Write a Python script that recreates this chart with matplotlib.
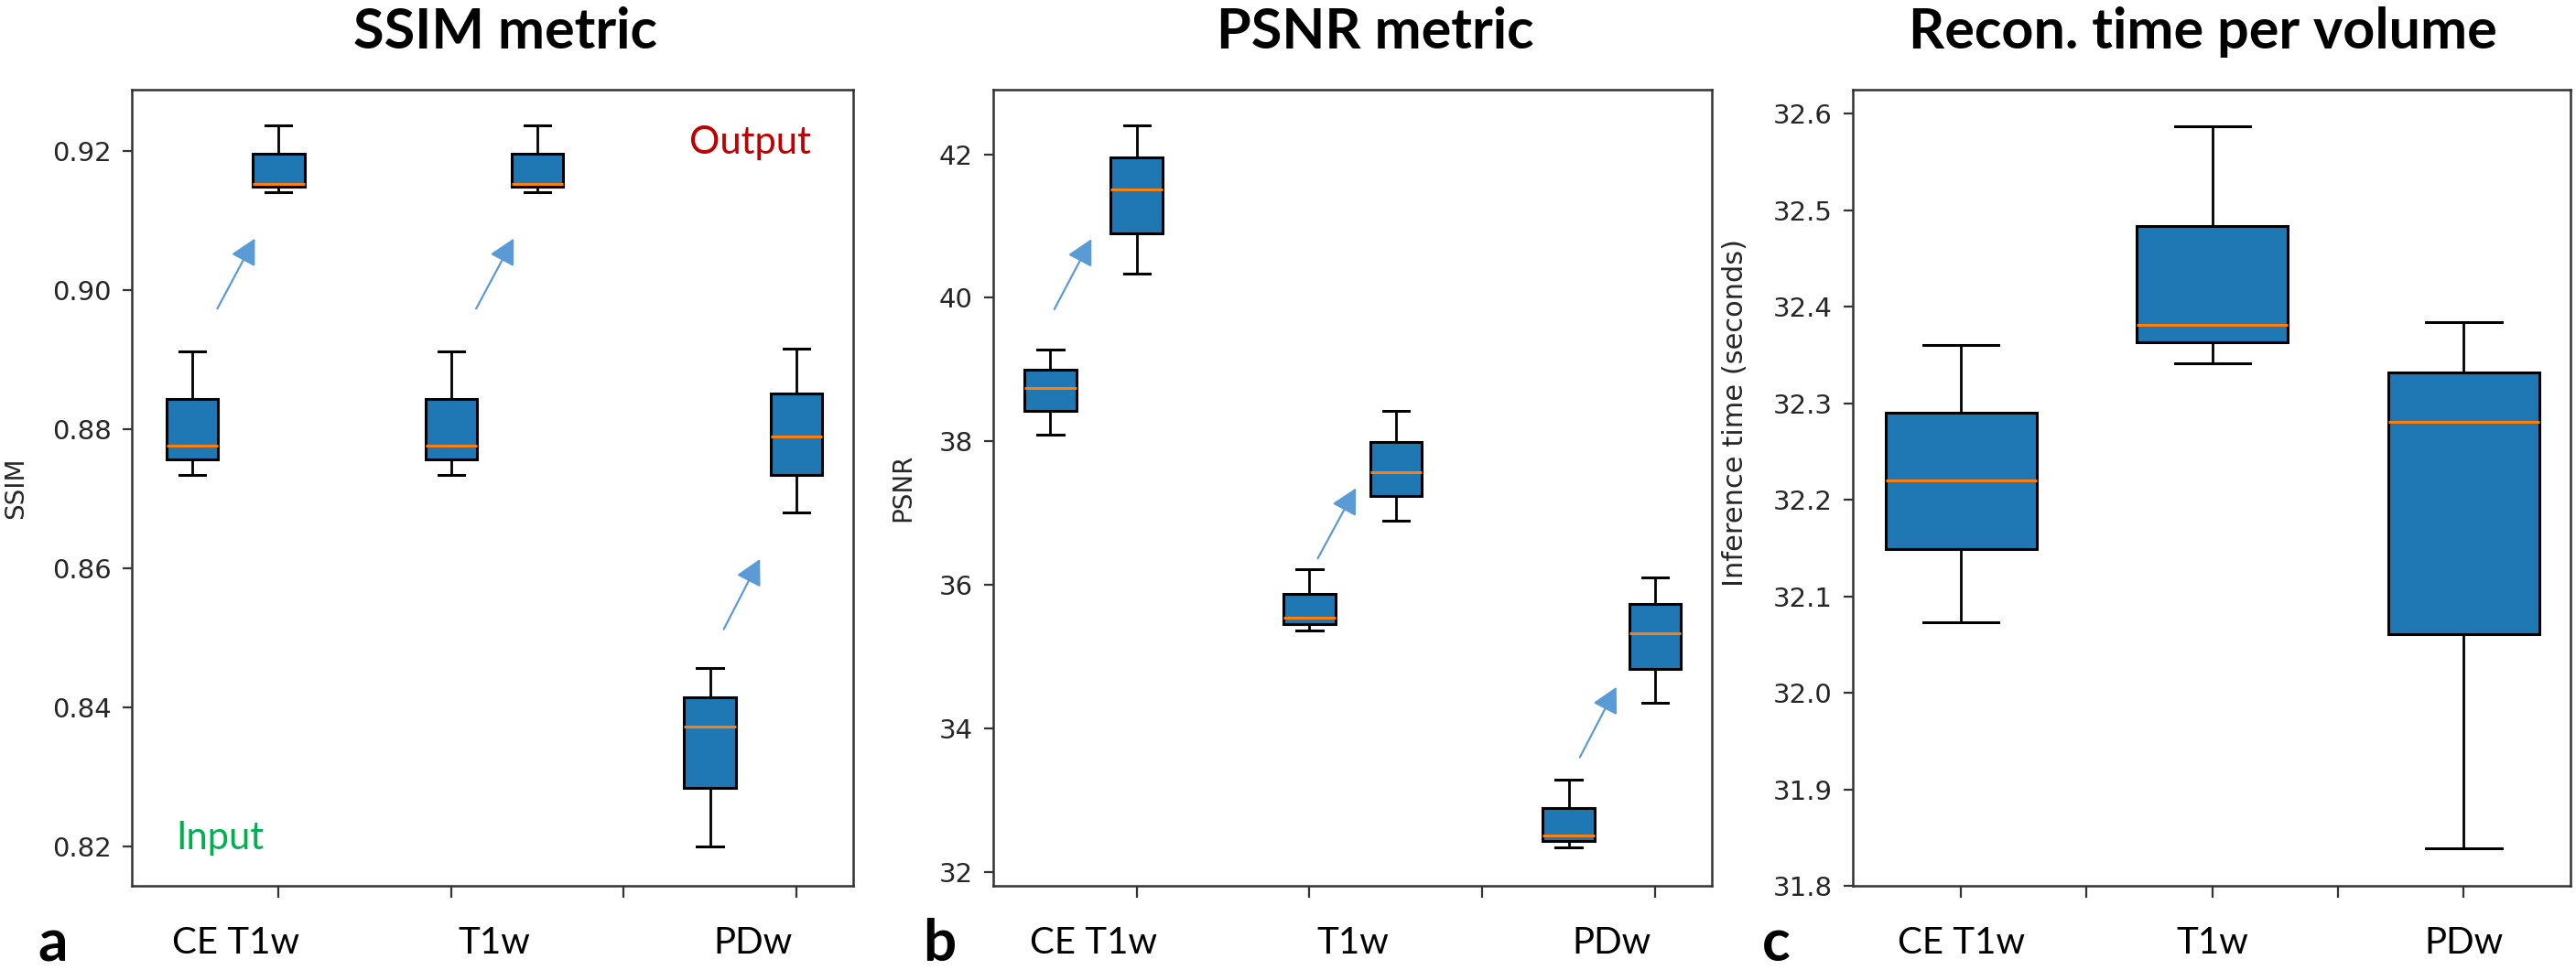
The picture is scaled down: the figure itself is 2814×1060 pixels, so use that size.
import numpy as np
import matplotlib
matplotlib.use('Agg')
import matplotlib.pyplot as plt
from matplotlib.transforms import blended_transform_factory

# box positions: input / output pairs per contrast
pair_pos = [0.5, 1, 2, 2.5, 3.5, 4]
pair_centers = [0.75, 2.25, 3.75]
categories = ['CE T1w', 'T1w', 'PDw']

# SSIM boxes (CE in, CE out, T1w in, T1w out, PDw in, PDw out)
ssim_lo  = [0.8734, 0.9141, 0.8734, 0.9141, 0.8199, 0.8680]
ssim_q1  = [0.8756, 0.9149, 0.8756, 0.9149, 0.8284, 0.8734]
ssim_med = [0.8776, 0.9153, 0.8776, 0.9153, 0.8372, 0.8789]
ssim_q3  = [0.8843, 0.9196, 0.8843, 0.9196, 0.8414, 0.8851]
ssim_hi  = [0.8911, 0.9237, 0.8911, 0.9237, 0.8456, 0.8915]

# PSNR boxes
psnr_lo  = [38.10, 40.34, 35.37, 36.89, 32.35, 34.36]
psnr_q1  = [38.42, 40.90, 35.45, 37.24, 32.43, 34.83]
psnr_med = [38.75, 41.51, 35.54, 37.57, 32.51, 35.33]
psnr_q3  = [39.00, 41.96, 35.87, 37.99, 32.89, 35.74]
psnr_hi  = [39.28, 42.40, 36.22, 38.42, 33.29, 36.10]

# reconstruction time boxes
time_pos = [1, 2, 3]
time_lo  = [32.073, 32.341, 31.839]
time_q1  = [32.149, 32.363, 32.061]
time_med = [32.220, 32.381, 32.281]
time_q3  = [32.290, 32.484, 32.332]
time_hi  = [32.360, 32.587, 32.384]

# arrows input -> output (start x, start y, end x, end y)
ssim_arr_x0 = [0.645, 2.145, 3.58]
ssim_arr_y0 = [0.8973, 0.8973, 0.8512]
ssim_arr_x1 = [0.863, 2.363, 3.79]
ssim_arr_y1 = [0.9074, 0.9074, 0.8613]

psnr_arr_x0 = [0.523, 2.048, 3.565]
psnr_arr_y0 = [39.84, 36.37, 33.60]
psnr_arr_x1 = [0.738, 2.269, 3.777]
psnr_arr_y1 = [40.82, 37.35, 34.58]

BOX_BLUE = '#1f77b4'
MED_ORANGE = '#ff7f0e'
ARROW_BLUE = '#5b9bd5'
TXT = '#262626'
LABEL_FONT = ['Lato', 'DejaVu Sans']


def make_stats(lo, q1, med, q3, hi):
    return [dict(whislo=a, q1=b, med=c, q3=d, whishi=e, fliers=[])
            for a, b, c, d, e in zip(lo, q1, med, q3, hi)]


def draw_boxes(ax, stats, pos, width):
    ax.bxp(stats, positions=pos, widths=width, patch_artist=True,
           showfliers=False, manage_ticks=False,
           boxprops=dict(facecolor=BOX_BLUE, edgecolor='black', linewidth=2.2),
           medianprops=dict(color=MED_ORANGE, linewidth=2.2),
           whiskerprops=dict(color='black', linewidth=2.0),
           capprops=dict(color='black', linewidth=2.2))


def style_axes(ax):
    for s in ax.spines.values():
        s.set_color('#333333')
        s.set_linewidth(1.8)
    ax.tick_params(axis='y', labelsize=21, length=7, width=1.6, pad=9,
                   colors='#333333', labelcolor=TXT)
    ax.tick_params(axis='x', length=9, width=1.6, colors='#333333')
    ax.set_xticklabels([])


def draw_arrows(ax, x0, y0, x1, y1):
    for a, b, c, d in zip(x0, y0, x1, y1):
        ax.annotate('', xy=(c, d), xytext=(a, b),
                    arrowprops=dict(arrowstyle='-|>,head_length=0.85,head_width=0.45',
                                    mutation_scale=20, color=ARROW_BLUE, lw=1.6,
                                    shrinkA=0, shrinkB=0))


def cat_labels(fig, ax, xs):
    tr = blended_transform_factory(ax.transData, fig.transFigure)
    for x, name in zip(xs, categories):
        ax.text(x, 0.017, name, transform=tr, ha='center', va='baseline',
                fontsize=29, family=LABEL_FONT, color='black', clip_on=False)


fig = plt.figure(figsize=(28.14, 10.60), dpi=100)
ax_a = fig.add_axes([0.0512, 0.0868, 0.2800, 0.8208])
ax_b = fig.add_axes([0.3856, 0.0868, 0.2790, 0.8208])
ax_c = fig.add_axes([0.7193, 0.0868, 0.2786, 0.8208])

# --- a: SSIM
draw_boxes(ax_a, make_stats(ssim_lo, ssim_q1, ssim_med, ssim_q3, ssim_hi), pair_pos, 0.3)
draw_arrows(ax_a, ssim_arr_x0, ssim_arr_y0, ssim_arr_x1, ssim_arr_y1)
ax_a.set_xlim(0.15, 4.33)
ax_a.set_ylim(0.8143, 0.9288)
ax_a.set_xticks([1, 2, 3, 4])
ax_a.set_yticks(np.arange(0.82, 0.921, 0.02))
ax_a.yaxis.set_major_formatter(plt.FormatStrFormatter('%.2f'))
style_axes(ax_a)
ax_a.set_ylabel('SSIM', fontsize=20, color=TXT)
ax_a.yaxis.set_label_coords(-0.143, 0.5)
ax_a.text(0.857, 0.9195, 'Output', transform=ax_a.transAxes, ha='center',
          va='baseline', fontsize=30, color='#c00000', family=LABEL_FONT)
ax_a.text(0.122, 0.046, 'Input', transform=ax_a.transAxes, ha='center',
          va='baseline', fontsize=30, color='#00b050', family=LABEL_FONT)
cat_labels(fig, ax_a, pair_centers)

# --- b: PSNR
draw_boxes(ax_b, make_stats(psnr_lo, psnr_q1, psnr_med, psnr_q3, psnr_hi), pair_pos, 0.3)
draw_arrows(ax_b, psnr_arr_x0, psnr_arr_y0, psnr_arr_x1, psnr_arr_y1)
ax_b.set_xlim(0.17, 4.33)
ax_b.set_ylim(31.81, 42.90)
ax_b.set_xticks([1, 2, 3, 4])
ax_b.set_yticks([32, 34, 36, 38, 40, 42])
style_axes(ax_b)
ax_b.set_ylabel('PSNR', fontsize=20, color=TXT)
ax_b.yaxis.set_label_coords(-0.108, 0.5)
cat_labels(fig, ax_b, pair_centers)

# --- c: reconstruction time
draw_boxes(ax_c, make_stats(time_lo, time_q1, time_med, time_q3, time_hi), time_pos, 0.6)
ax_c.set_xlim(0.57, 3.425)
ax_c.set_ylim(31.8, 32.625)
ax_c.set_xticks([1, 1.5, 2, 2.5, 3])
ax_c.set_yticks(np.arange(31.8, 32.61, 0.1))
ax_c.yaxis.set_major_formatter(plt.FormatStrFormatter('%.1f'))
style_axes(ax_c)
ax_c.set_ylabel('Inference time (seconds)', fontsize=22, color=TXT)
ax_c.yaxis.set_label_coords(-0.145, 0.594)
cat_labels(fig, ax_c, time_pos)

# titles and panel letters
titles = ['SSIM metric', 'PSNR metric', 'Recon. time per volume']
for x, t in zip([0.196, 0.534, 0.855], titles):
    fig.text(x, 1 - 53 / 1060, t, ha='center', va='baseline', fontsize=44,
             fontweight='bold', family=LABEL_FONT)
for x, t in zip([0.0206, 0.3646, 0.6894], ['a', 'b', 'c']):
    fig.text(x, 0.0094, t, ha='center', va='baseline', fontsize=46,
             fontweight='bold', family=LABEL_FONT)

fig.savefig('out.png', dpi=100, facecolor='white')
